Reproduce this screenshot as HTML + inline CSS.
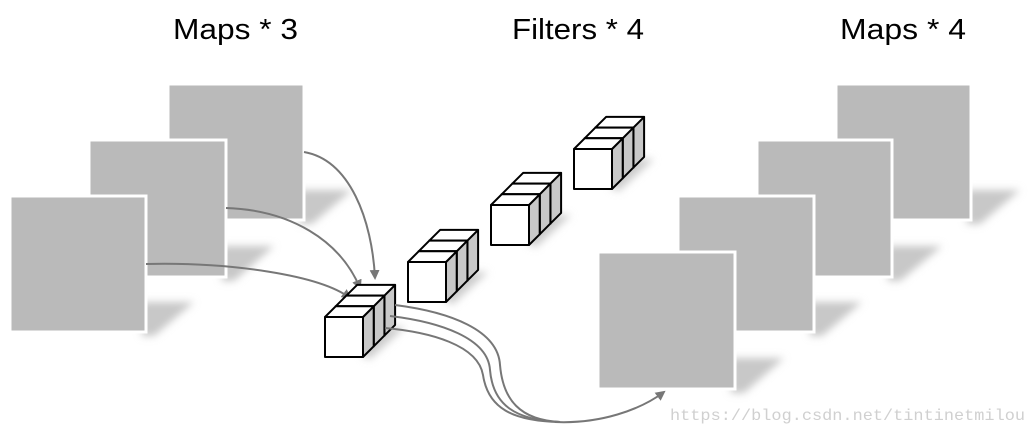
<!DOCTYPE html>
<html><head><meta charset="utf-8"><style>
body{margin:0;background:#fff;}
svg{display:block}
</style></head><body>
<svg width="1032" height="438" viewBox="0 0 1032 438" xmlns="http://www.w3.org/2000/svg">
<defs>
<filter id="b" x="-50%" y="-50%" width="200%" height="200%"><feGaussianBlur stdDeviation="4"/></filter>
<filter id="b2" x="-50%" y="-50%" width="200%" height="200%"><feGaussianBlur stdDeviation="4"/></filter>
<marker id="ah" markerWidth="10" markerHeight="10" refX="8" refY="5" orient="auto" markerUnits="userSpaceOnUse"><path d="M0,0 L10,5 L0,10 z" fill="#777"/></marker>
</defs>
<style>
text{font-family:"Liberation Sans",sans-serif;}
.sq{fill:#bababa;stroke:#fff;stroke-width:3}
.sh{fill:#c8c8c8;filter:url(#b)}
.c{stroke:#000;stroke-width:2;stroke-linejoin:round}
.ln{fill:none;stroke:#777;stroke-width:2}
</style>
<text x="173" y="39" font-size="29" textLength="125" lengthAdjust="spacingAndGlyphs">Maps * 3</text>
<text x="512" y="39" font-size="29" textLength="132" lengthAdjust="spacingAndGlyphs">Filters * 4</text>
<text x="840" y="39" font-size="29" textLength="126" lengthAdjust="spacingAndGlyphs">Maps * 4</text>

<!-- left maps -->
<g>
<polygon class="sh" points="300,190 352,190 312,224 300,224"/>
<rect class="sq" x="168" y="84" width="136" height="136"/>
<polygon class="sh" points="222,246 274,246 234,281 222,281"/>
<rect class="sq" x="89" y="140" width="137" height="137"/>
<polygon class="sh" points="142,302 194,302 154,336 142,336"/>
<rect class="sq" x="10" y="196" width="136" height="136"/>
</g>
<!-- right maps -->
<g>
<polygon class="sh" points="967,190 1020,190 980,224 967,224"/>
<rect class="sq" x="836" y="84" width="135" height="136"/>
<polygon class="sh" points="888,246 942,246 900,281 888,281"/>
<rect class="sq" x="757" y="140" width="135" height="137"/>
<polygon class="sh" points="810,302 862,302 822,336 810,336"/>
<rect class="sq" x="678" y="196" width="136" height="136"/>
<polygon class="sh" points="731,358 784,358 744,393 731,393"/>
<rect class="sq" x="598" y="252" width="137" height="137"/>
</g>

<!-- arrows in -->
<path class="ln" d="M304,152 C350,160 372,220 375,278" marker-end="url(#ah)"/>
<path class="ln" d="M226,208 C290,210 340,240 360,288" marker-end="url(#ah)"/>
<path class="ln" d="M146,264 C230,262 320,275 350,298" marker-end="url(#ah)"/>

<g id="stacks"></g>
<script>
var ns="http://www.w3.org/2000/svg";
var g=document.getElementById("stacks");
function poly(pts,fill){var p=document.createElementNS(ns,"polygon");p.setAttribute("points",pts.map(function(a){return a[0].toFixed(1)+","+a[1].toFixed(1)}).join(" "));p.setAttribute("fill",fill);p.setAttribute("class","c");g.appendChild(p);}
function shadow(X,Y){var p=document.createElementNS(ns,"polygon");p.setAttribute("points",(X+38)+","+(Y+10)+" "+(X+80)+","+(Y+10)+" "+(X+45)+","+(Y+42)+" "+(X+38)+","+(Y+40));p.setAttribute("fill","#ccc");p.setAttribute("filter","url(#b2)");g.appendChild(p);}
function stack(X,Y){var w=38,h=40,d=10.7;shadow(X,Y);
for(var i=2;i>=0;i--){var x=X+i*d,y=Y-i*d;
poly([[x+w,y],[x+w+d,y-d],[x+w+d,y+h-d],[x+w,y+h]],"#c8c8c8");
poly([[x,y],[x+d,y-d],[x+w+d,y-d],[x+w,y]],"#fff");
poly([[x,y],[x+w,y],[x+w,y+h],[x,y+h]],"#fff");}}
stack(325,317);stack(408,262);stack(491,205);stack(574,149);
</script>

<!-- arrows out -->
<path class="ln" d="M395,305 C450,312 498,330 500,365 C503,400 520,420 560,422"/>
<path class="ln" d="M390,316 C440,322 488,338 490,370 C493,405 515,420 560,422"/>
<path class="ln" d="M385,328 C430,332 478,345 483,375 C488,408 512,421 560,422"/>
<path class="ln" d="M555,422 C600,424 640,410 664,392" marker-end="url(#ah)"/>

<text x="670" y="420" font-size="16" fill="#d0d0d0" textLength="355" lengthAdjust="spacingAndGlyphs" style="font-family:'Liberation Mono',monospace">https://blog.csdn.net/tintinetmilou</text>
</svg>
</body></html>
